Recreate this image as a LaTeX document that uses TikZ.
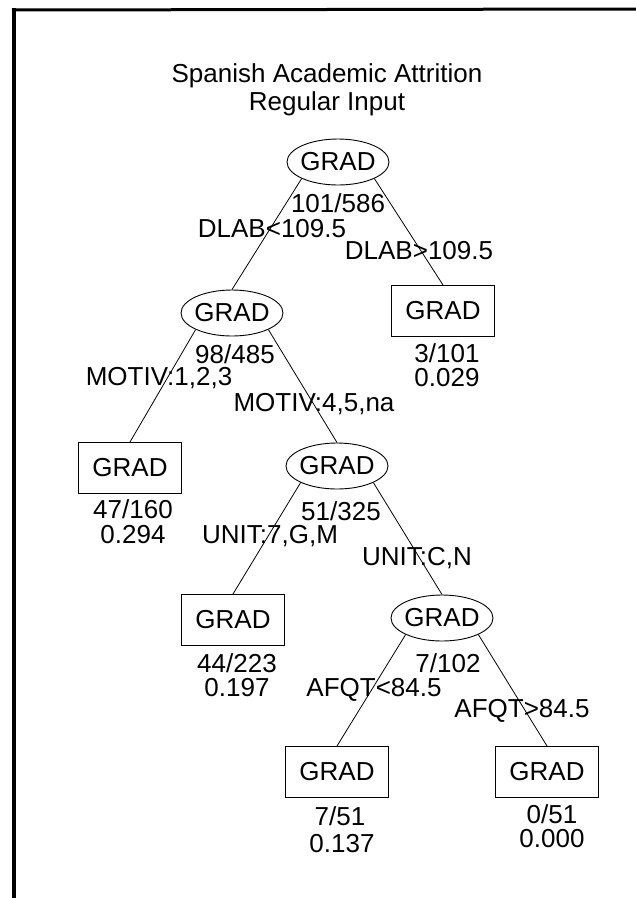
\documentclass[tikz,border=0pt]{standalone}
\usepackage{fontspec}
\setmainfont{Liberation Sans}
\usetikzlibrary{shapes.geometric}
\tikzset{
  split/.style={ellipse, draw, line width=0.9pt, minimum width=102pt, minimum height=46pt, inner xsep=-1.5pt, inner ysep=0pt},
  leaf/.style={rectangle, draw, line width=1pt, minimum width=103pt, minimum height=51pt, inner sep=0pt},
  lbl/.style={inner sep=0pt, anchor=base},
  edge/.style={line width=0.8pt},
  frame/.style={line width=4pt}
}
\begin{document}
\begin{tikzpicture}[x=1pt,y=-1pt,font=\fontsize{26pt}{30pt}\selectfont]
\useasboundingbox (0,0) rectangle (636,898);
% frame (top and left edges visible)
\coordinate (fa) at (14,898);
\coordinate (fb) at (14,8);
\coordinate (fc) at (636,9);
\draw[frame] (fa) -- (fb);
\draw[line width=3pt] (12,10) -- (fc);
% title
\node[lbl] (t1) at (327,82) {Spanish Academic Attrition};
\node[lbl] (t2) at (327,110) {Regular Input};
% nodes
\node[split] (root) at (338,162) {GRAD};
\node[split] (n2) at (232,313) {GRAD};
\node[leaf]  (l1) at (443,311) {GRAD};
\node[leaf]  (l2) at (130,468) {GRAD};
\node[split] (n3) at (337,466) {GRAD};
\node[leaf]  (l3) at (233,620) {GRAD};
\node[split] (n4) at (442,618) {GRAD};
\node[leaf]  (l4) at (337,772) {GRAD};
\node[leaf]  (l5) at (547,772) {GRAD};
% edges
\draw[edge] (root.south west) -- (n2.north);
\draw[edge] (root.south east) -- (l1.north);
\draw[edge] (n2.south west) -- (l2.north);
\draw[edge] (n2.south east) -- (n3.north);
\draw[edge] (n3.south west) -- (l3.north);
\draw[edge] (n3.south east) -- (n4.north);
\draw[edge] (n4.south west) -- (l4.north);
\draw[edge] (n4.south east) -- (l5.north);
% labels
\node[lbl] (a1) at (338,212) {101/586};
\node[lbl] (a2) at (272,237) {DLAB<109.5};
\node[lbl] (a3) at (419,259) {DLAB>109.5};
\node[lbl] (b1) at (235,363) {98/485};
\node[lbl] (b2) at (159,385) {MOTIV:1,2,3};
\node[lbl] (b3) at (314,411) {MOTIV:4,5,na};
\node[lbl] (c1) at (447,362) {3/101};
\node[lbl] (c2) at (447,386) {0.029};
\node[lbl] (d1) at (133,518) {47/160};
\node[lbl] (d2) at (133,543) {0.294};
\node[lbl] (e1) at (341,520) {51/325};
\node[lbl] (e2) at (270,543) {UNIT:7,G,M};
\node[lbl] (e3) at (417,565) {UNIT:C,N};
\node[lbl] (f1) at (237,672) {44/223};
\node[lbl] (f2) at (237,696) {0.197};
\node[lbl] (g1) at (448,672) {7/102};
\node[lbl] (g2) at (374,696) {AFQT<84.5};
\node[lbl] (g3) at (522,717) {AFQT>84.5};
\node[lbl] (h1) at (340,825) {7/51};
\node[lbl] (h2) at (342,852) {0.137};
\node[lbl] (i1) at (552,823) {0/51};
\node[lbl] (i2) at (552,847) {0.000};
\end{tikzpicture}
\end{document}
